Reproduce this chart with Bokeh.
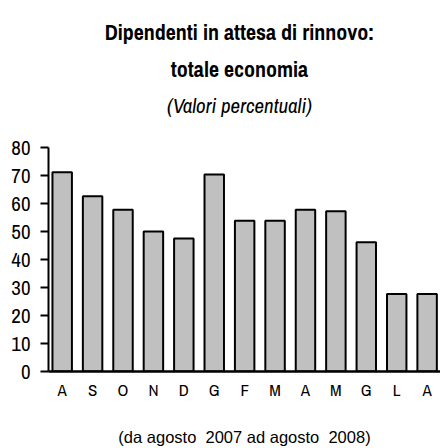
from bokeh.plotting import figure
from bokeh.models import Range1d, FixedTicker, Label
from bokeh.embed import file_html
from bokeh.resources import INLINE

months = ["A", "S", "O", "N", "D", "G", "F", "M", "A", "M", "G", "L", "A"]
values = [71.2, 62.6, 57.8, 50.0, 47.5, 70.4, 53.8, 53.8, 57.8, 57.2, 46.2, 27.7, 27.7]
y_ticks = [0, 10, 20, 30, 40, 50, 60, 70, 80]
title_lines = ["Dipendenti in attesa di rinnovo:", "totale economia", "(Valori percentuali)"]
caption = "(da agosto\u00a0\u00a02007 ad agosto\u00a0\u00a02008)"

FONT = "Archivo Narrow"
FONT2 = "Liberation Sans"

xs = list(range(len(months)))

p = figure(width=440, height=448, output_backend="svg", toolbar_location=None,
           x_range=Range1d(-0.45, 12.44), y_range=Range1d(0, 132.5),
           min_border_left=48, min_border_right=0, min_border_top=0, min_border_bottom=77)
p.outline_line_color = None
p.grid.visible = False
p.background_fill_color = "white"

p.vbar(x=xs, top=values, width=0.64, bottom=0, fill_color="#C0C0C0",
       line_color="black", line_width=2)

# y axis
ya = p.yaxis[0]
ya.ticker = FixedTicker(ticks=y_ticks)
ya.bounds = (0, 80)
ya.axis_line_width = 2
ya.major_tick_line_width = 2
ya.major_tick_out = 8
ya.major_tick_in = 0
ya.minor_tick_out = 0
ya.minor_tick_in = 0
ya.major_label_standoff = 10
ya.major_label_text_font = FONT
ya.major_label_text_font_size = "21px"
ya.major_label_text_color = "black"

# x axis
xa = p.xaxis[0]
xa.ticker = FixedTicker(ticks=xs)
xa.major_label_overrides = {i: m for i, m in enumerate(months)}
xa.axis_line_width = 2.5
xa.major_tick_out = 0
xa.major_tick_in = 0
xa.minor_tick_out = 0
xa.minor_tick_in = 0
xa.major_label_standoff = 6
xa.major_label_text_font = FONT
xa.major_label_text_font_size = "17px"
xa.major_label_text_color = "black"
xa.axis_label = caption
xa.axis_label_text_font = FONT2
xa.axis_label_text_font_size = "16.5px"
xa.axis_label_text_font_style = "normal"
xa.axis_label_text_color = "black"
xa.axis_label_standoff = 24

# titles (positions in data coordinates of the frame)
tx = 5.83
for txt, y, style, size in [(title_lines[0], 121.1, "bold", "22px"),
                            (title_lines[1], 108.0, "bold", "22px"),
                            (title_lines[2], 95.0, "italic", "21px")]:
    p.add_layout(Label(x=tx, y=y, text=txt, text_align="center",
                       text_baseline="alphabetic", text_font=FONT,
                       text_font_size=size, text_font_style=style,
                       text_color="black"))

open("out.html", "w").write(file_html(p, INLINE))
